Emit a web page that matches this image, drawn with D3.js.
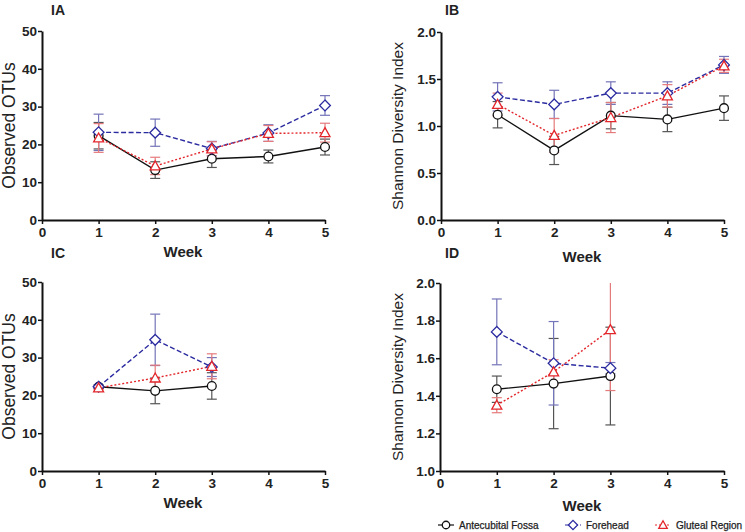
<!DOCTYPE html>
<html>
<head>
<meta charset="utf-8">
<script src="https://cdn.jsdelivr.net/npm/d3@7"></script>
<style>
body { margin: 0; background: #fff; }
svg text { font-family: "Liberation Sans", Arial, sans-serif; }
</style>
</head>
<body>
<div id="page"></div>
<script>
// weeks
var weeksA = [1, 2, 3, 4, 5];
var weeksC = [1, 2, 3];
var xTicks = [0, 1, 2, 3, 4, 5];
var seriesNames = ['Antecubital Fossa', 'Forehead', 'Gluteal Region'];

// IA observed OTUs
var iaAnt = [22.3, 13.2, 16.2, 16.8, 19.3];
var iaAntErr = [3.5, 2.2, 2.3, 1.7, 2.1];
var iaFore = [23.2, 23.1, 18.9, 23.0, 30.3];
var iaForeErr = [4.8, 3.6, 1.9, 2.2, 2.6];
var iaGlut = [21.7, 14.3, 18.8, 22.9, 23.1];
var iaGlutErr = [3.8, 2.3, 1.9, 2.1, 2.5];

// IB shannon
var ibAnt = [1.12, 0.74, 1.11, 1.07, 1.19];
var ibAntErr = [0.14, 0.15, 0.14, 0.13, 0.13];
var ibFore = [1.31, 1.23, 1.35, 1.35, 1.65];
var ibForeErr = [0.15, 0.15, 0.12, 0.12, 0.09];
var ibGlut = [1.23, 0.90, 1.09, 1.32, 1.64];
var ibGlutErr = [0.12, 0.18, 0.16, 0.12, 0.07];

// IC observed OTUs
var icAnt = [22.3, 21.2, 22.5];
var icAntErr = [0.5, 3.4, 3.5];
var icFore = [22.3, 34.7, 27.5];
var icForeErr = [0.4, 6.8, 2.5];
var icGlut = [22.0, 24.6, 27.7];
var icGlutErr = [0.4, 3.4, 3.3];

// ID shannon
var idAnt = [1.435, 1.465, 1.505];
var idAntErr = [0.07, 0.24, 0.26];
var idFore = [1.74, 1.573, 1.547];
var idForeErr = [0.175, 0.222, 0.03];
var idGlut = [1.35, 1.527, 1.752];
var idGlutErr = [0.04, 0.065, 0.324];

var otuTicks = [0, 10, 20, 30, 40, 50];
var shB = [0, 0.5, 1.0, 1.5, 2.0];
var shD = [1.0, 1.2, 1.4, 1.6, 1.8, 2.0];

var styles = [
    { color: '#111', bar: '#555', dash: null, marker: 'circle' },
    { color: '#2b2ba0', bar: '#7474b8', dash: '5,2.5', marker: 'diamond' },
    { color: '#e3262b', bar: '#e57a7c', dash: '2,2', marker: 'triangle' }
];

var svg = d3.select('#page').append('svg').attr('width', 745).attr('height', 532);

function marker(g, type, x, y, col, k) {
    k = k || 1;
    if (type == 'circle') {
        g.append('circle').attr('cx', x).attr('cy', y).attr('r', 4.4 * k)
            .attr('fill', '#fff').attr('stroke', col).attr('stroke-width', 1.3);
    } else if (type == 'diamond') {
        let s = 5.4 * k;
        g.append('path').attr('d', 'M' + x + ',' + (y - s) + 'L' + (x + s) + ',' + y + 'L' + x + ',' + (y + s) + 'L' + (x - s) + ',' + y + 'Z')
            .attr('fill', '#fff').attr('stroke', col).attr('stroke-width', 1.3);
    } else {
        let s = 5 * k;
        g.append('path').attr('d', 'M' + x + ',' + (y - s) + 'L' + (x + s) + ',' + (y + s * 0.8) + 'L' + (x - s) + ',' + (y + s * 0.8) + 'Z')
            .attr('fill', '#fff').attr('stroke', col).attr('stroke-width', 1.3);
    }
}

function panel(p) {
    let g = svg.append('g');
    let x = d3.scaleLinear().domain([0, 5]).range([p.left, p.right]);
    let y = d3.scaleLinear().domain([p.yTicks[0], p.yTicks[p.yTicks.length - 1]]).range([p.bottom, p.top]);
    let fmt = p.fmt;

    let ya = g.append('g').attr('transform', 'translate(' + p.left + ',0)')
        .call(d3.axisLeft(y).tickValues(p.yTicks).tickFormat(fmt).tickSize(4).tickSizeOuter(0));
    let xa = g.append('g').attr('transform', 'translate(0,' + p.bottom + ')')
        .call(d3.axisBottom(x).tickValues(xTicks).tickFormat(d3.format('d')).tickSize(4).tickSizeOuter(0));
    [ya, xa].forEach(a => {
        a.select('.domain').attr('stroke', '#111').attr('stroke-width', 2);
        a.selectAll('.tick line').attr('stroke', '#111').attr('stroke-width', 1.5);
        a.selectAll('.tick text').attr('font-size', 13.5).attr('font-weight', 'bold').attr('fill', '#222');
    });
    ya.selectAll('.tick text').attr('x', -5);
    xa.selectAll('.tick text').attr('y', 7);

    g.append('text').attr('x', p.titleX).attr('y', (p.top + p.bottom) / 2)
        .attr('transform', 'rotate(-90,' + p.titleX + ',' + ((p.top + p.bottom) / 2) + ')')
        .attr('text-anchor', 'middle').attr('dominant-baseline', 'central')
        .attr('font-size', p.titleSize).attr('fill', '#222').text(p.yTitle);
    g.append('text').attr('x', p.weekX).attr('y', p.weekY).attr('text-anchor', 'middle')
        .attr('font-size', 15).attr('font-weight', 'bold').attr('fill', '#222').text('Week');
    g.append('text').attr('x', p.labX).attr('y', p.labY)
        .attr('font-size', 14).attr('font-weight', 'bold').attr('fill', '#222').text(p.label);

    let yMin = y.domain()[0], yMax = y.domain()[1];
    p.series.forEach((s, si) => {
        let st = styles[si];
        let pts = p.weeks.map((w, i) => ({ w: w, v: s.mean[i], e: s.err[i] }));
        // error bars
        pts.forEach(d => {
            let lo = Math.max(yMin, d.v - d.e), hi = Math.min(yMax, d.v + d.e);
            g.append('line').attr('x1', x(d.w)).attr('x2', x(d.w)).attr('y1', y(lo)).attr('y2', y(hi))
                .attr('stroke', st.bar).attr('stroke-width', 1.2);
            [d.v - d.e, d.v + d.e].forEach(c => {
                if (c < yMin || c > yMax) return;
                g.append('line').attr('x1', x(d.w) - 5).attr('x2', x(d.w) + 5).attr('y1', y(c)).attr('y2', y(c))
                    .attr('stroke', st.bar).attr('stroke-width', 1.2);
            });
        });
    });
    p.series.forEach((s, si) => {
        let st = styles[si];
        let pts = p.weeks.map((w, i) => ({ w: w, v: s.mean[i] }));
        let line = d3.line().x(d => x(d.w)).y(d => y(d.v));
        g.append('path').attr('d', line(pts)).attr('fill', 'none').attr('stroke', st.color)
            .attr('stroke-width', 1.4).attr('stroke-dasharray', st.dash);
    });
    p.series.forEach((s, si) => {
        let st = styles[si];
        p.weeks.forEach((w, i) => marker(g, st.marker, x(w), y(s.mean[i]), st.color));
    });
}

panel({ left: 42, right: 325, top: 31, bottom: 220, yTicks: otuTicks, fmt: d3.format('d'),
    titleX: 9, titleSize: 17.5, yTitle: 'Observed OTUs', weekX: 183, weekY: 257, labX: 51, labY: 15, label: 'IA',
    weeks: weeksA, series: [{ mean: iaAnt, err: iaAntErr }, { mean: iaFore, err: iaForeErr }, { mean: iaGlut, err: iaGlutErr }] });
panel({ left: 441, right: 724, top: 32, bottom: 220, yTicks: shB, fmt: d3.format('.1f'),
    titleX: 397, titleSize: 15.5, yTitle: 'Shannon Diversity Index', weekX: 582, weekY: 262, labX: 445, labY: 15, label: 'IB',
    weeks: weeksA, series: [{ mean: ibAnt, err: ibAntErr }, { mean: ibFore, err: ibForeErr }, { mean: ibGlut, err: ibGlutErr }] });
panel({ left: 42, right: 325, top: 282, bottom: 471, yTicks: otuTicks, fmt: d3.format('d'),
    titleX: 9, titleSize: 17.5, yTitle: 'Observed OTUs', weekX: 183, weekY: 508, labX: 51, labY: 258, label: 'IC',
    weeks: weeksC, series: [{ mean: icAnt, err: icAntErr }, { mean: icFore, err: icForeErr }, { mean: icGlut, err: icGlutErr }] });
panel({ left: 440, right: 724, top: 283, bottom: 471, yTicks: shD, fmt: d3.format('.1f'),
    titleX: 397, titleSize: 15.5, yTitle: 'Shannon Diversity Index', weekX: 582, weekY: 511, labX: 445, labY: 258, label: 'ID',
    weeks: weeksC, series: [{ mean: idAnt, err: idAntErr }, { mean: idFore, err: idForeErr }, { mean: idGlut, err: idGlutErr }] });

// legend
var legX = [446, 573, 663];
var leg = svg.append('g');
seriesNames.forEach((n, i) => {
    let st = styles[i];
    leg.append('line').attr('x1', legX[i] - 8).attr('x2', legX[i] + 8).attr('y1', 525).attr('y2', 525)
        .attr('stroke', st.color).attr('stroke-width', 1.2).attr('stroke-dasharray', st.dash);
    marker(leg, st.marker, legX[i], 525, st.color, 0.85);
    leg.append('text').attr('x', legX[i] + 13).attr('y', 525).attr('dominant-baseline', 'central')
        .attr('font-size', 10).attr('fill', '#222').attr('stroke', '#222').attr('stroke-width', 0.25).text(n);
});
</script>
</body>
</html>
